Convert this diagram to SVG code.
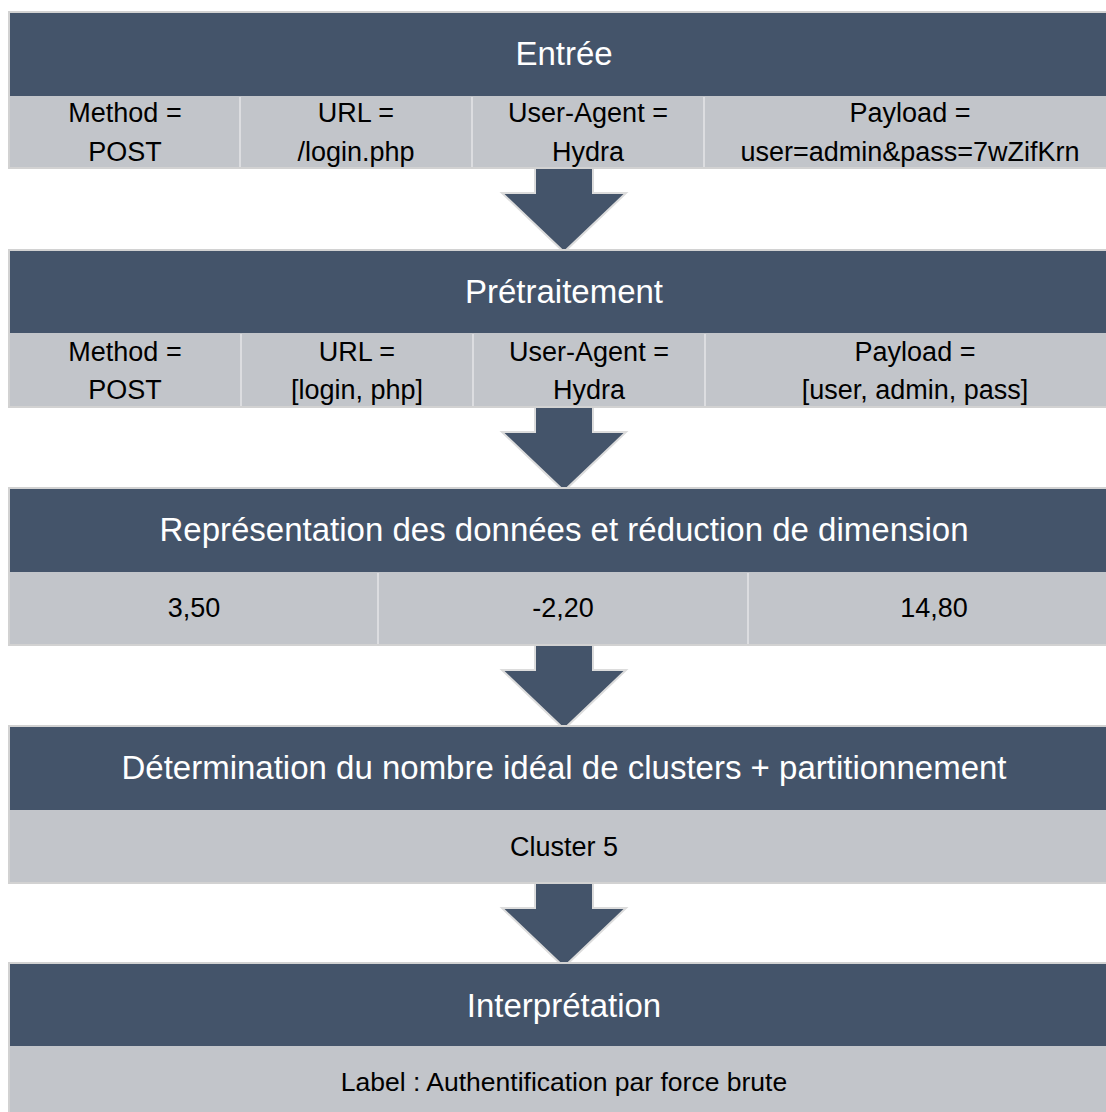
<svg xmlns="http://www.w3.org/2000/svg" width="1106" height="1112" viewBox="0 0 1106 1112">
<style>
.hd{fill:#44546a}
.rw{fill:#c2c5ca}
.bd{fill:none;stroke:#d2d2d2;stroke-width:2}
.dv{stroke:#dcdde0;stroke-width:2}
.ht{font-family:"Liberation Sans",Arial,sans-serif;font-size:33px;fill:#ffffff;text-anchor:middle}
.bt{font-family:"Liberation Sans",Arial,sans-serif;font-size:27px;fill:#000000;text-anchor:middle}
.st{font-family:"Liberation Sans",Arial,sans-serif;font-size:26.5px;fill:#000000;text-anchor:middle}
.ar{fill:#44546a;stroke:#dcdcdc;stroke-width:2;stroke-linejoin:miter}
</style>
<rect width="1106" height="1112" fill="#ffffff"/>
<g id="connectors">
<path class="ar" d="M535,168 L593,168 L593,193 L626,193 L564,252 L502,193 L535,193 Z"/>
<path class="ar" d="M535,407 L593,407 L593,432 L626,432 L564,491 L502,432 L535,432 Z"/>
<path class="ar" d="M535,645 L593,645 L593,670 L626,670 L564,729 L502,670 L535,670 Z"/>
<path class="ar" d="M535,883 L593,883 L593,908 L626,908 L564,967 L502,908 L535,908 Z"/>
</g>
<g id="entree">
<rect class="hd" x="9" y="12" width="1100" height="84"/>
<rect class="rw" x="9" y="96" width="1100" height="72"/>
<line class="dv" x1="240" y1="97" x2="240" y2="167"/>
<line class="dv" x1="472" y1="97" x2="472" y2="167"/>
<line class="dv" x1="704" y1="97" x2="704" y2="167"/>
<rect class="bd" x="9" y="12" width="1100" height="156"/>
<text class="ht" x="564" y="65">Entrée</text>
<text class="bt" x="125" y="122">Method =</text>
<text class="bt" x="125" y="161">POST</text>
<text class="bt" x="356" y="122">URL =</text>
<text class="bt" x="356" y="161">/login.php</text>
<text class="bt" x="588" y="122">User-Agent =</text>
<text class="bt" x="588" y="161">Hydra</text>
<text class="bt" x="910" y="122">Payload =</text>
<text class="bt" x="910" y="161">user=admin&amp;pass=7wZifKrn</text>
</g>
<g id="pretraitement">
<rect class="hd" x="9" y="250" width="1100" height="83"/>
<rect class="rw" x="9" y="333" width="1100" height="74"/>
<line class="dv" x1="241" y1="334" x2="241" y2="406"/>
<line class="dv" x1="473" y1="334" x2="473" y2="406"/>
<line class="dv" x1="705" y1="334" x2="705" y2="406"/>
<rect class="bd" x="9" y="250" width="1100" height="157"/>
<text class="ht" x="564" y="303">Prétraitement</text>
<text class="bt" x="125" y="361">Method =</text>
<text class="bt" x="125" y="399">POST</text>
<text class="bt" x="357" y="361">URL =</text>
<text class="bt" x="357" y="399">[login, php]</text>
<text class="bt" x="589" y="361">User-Agent =</text>
<text class="bt" x="589" y="399">Hydra</text>
<text class="bt" x="915" y="361">Payload =</text>
<text class="bt" x="915" y="399">[user, admin, pass]</text>
</g>
<g id="representation">
<rect class="hd" x="9" y="488" width="1100" height="84"/>
<rect class="rw" x="9" y="572" width="1100" height="73"/>
<line class="dv" x1="378" y1="573" x2="378" y2="644"/>
<line class="dv" x1="748" y1="573" x2="748" y2="644"/>
<rect class="bd" x="9" y="488" width="1100" height="157"/>
<text class="ht" x="564" y="541">Représentation des données et réduction de dimension</text>
<text class="bt" x="194" y="617">3,50</text>
<text class="bt" x="563" y="617">-2,20</text>
<text class="bt" x="934" y="617">14,80</text>
</g>
<g id="clustering">
<rect class="hd" x="9" y="726" width="1100" height="84"/>
<rect class="rw" x="9" y="810" width="1100" height="73"/>
<rect class="bd" x="9" y="726" width="1100" height="157"/>
<text class="ht" x="564" y="779">Détermination du nombre idéal de clusters + partitionnement</text>
<text class="bt" x="564" y="856">Cluster 5</text>
</g>
<g id="interpretation">
<rect class="hd" x="9" y="963" width="1100" height="83"/>
<rect class="rw" x="9" y="1046" width="1100" height="70"/>
<rect class="bd" x="9" y="963" width="1100" height="153"/>
<text class="ht" x="564" y="1017">Interprétation</text>
<text class="st" x="564" y="1091">Label : Authentification par force brute</text>
</g>
</svg>
